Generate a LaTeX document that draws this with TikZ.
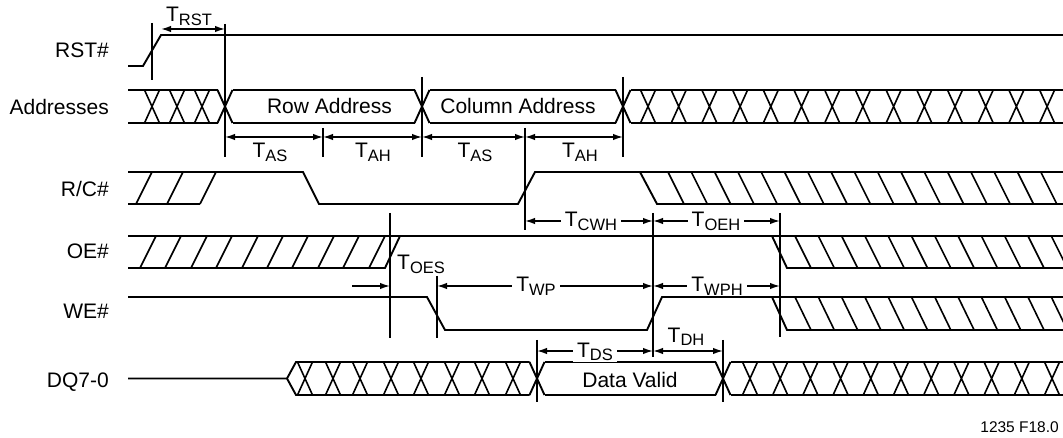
\documentclass[tikz,border=0pt]{standalone}
\usepackage{fontspec}
\setmainfont{Liberation Sans}
\usetikzlibrary{arrows.meta}

\def\hw{7.5}
\newcommand\tsub[1]{T\raisebox{-3.5pt}{\fontsize{16.5}{18}\selectfont #1}}

\begin{document}
\begin{tikzpicture}[x=1pt,y=-1pt]
		\tikzstyle{every node}=[font=\fontsize{21}{24}\selectfont]
		\tikzstyle{wave}=[line width=1.9pt, line join=miter]
		\tikzstyle{hatch}=[line width=1.6pt]
		\tikzstyle{marker}=[line width=1.9pt]
		\tikzstyle{dim}=[line width=1.5pt, {Latex[length=10pt,width=6.5pt]}-{Latex[length=10pt,width=6.5pt]}]
		\tikzstyle{tlabel}=[fill=white, inner xsep=4pt, inner ysep=1pt, anchor=base]
		\tikzstyle{signame}=[anchor=base east, inner sep=0pt]

		\clip (0,0) rectangle (1063,438);

			% Signal names
		\node[signame] (rst) at (109,58) {RST\#};
		\node[signame] (addr) at (109,115) {Addresses};
		\node[signame] (rc) at (109,197) {R/C\#};
		\node[signame] (oe) at (109,259) {OE\#};
		\node[signame] (we) at (109,319) {WE\#};
		\node[signame] (dq) at (109,387) {DQ7-0};

			% Time marks
		\coordinate (tR0) at (152,0);
		\coordinate (tR) at (161,0);
		\coordinate (tR1) at (225,0);
		\coordinate (tA1) at (323,0);
		\coordinate (tA2) at (422,0);
		\coordinate (tA3) at (525,0);
		\coordinate (tA4) at (623,0);
		\coordinate (tO1) at (390,0);
		\coordinate (tO2) at (437,0);
		\coordinate (tW1) at (653,0);
		\coordinate (tW2) at (780,0);
		\coordinate (tD1) at (537,0);
		\coordinate (tD2) at (723,0);
		\coordinate (tS) at (352,0);

		\foreach \m/\ya/\yb in {tR0/23/80, tR1/24/157, tA1/128/157, tA2/77/157,
			tA3/128/230, tA4/77/157, tO1/213/338, tO2/276/338,
			tW1/213/357, tW2/213/337, tD1/340/402, tD2/340/402}
		\draw[marker] (\m |- 0,\ya) -- (\m |- 0,\yb);

			% RST#
		\draw[wave] (128,66) -- (143,66) -- (161,35) -- (1063,35);

			% Addresses bus
		\draw[wave] (128,90) -- (225-\hw,90) (128,123) -- (225-\hw,123);
		\foreach \c in {152,177,202}
		\draw[hatch] (\c-\hw,90) -- (\c+\hw,123) (\c-\hw,123) -- (\c+\hw,90);
		\foreach \c in {225,422,623}
		\draw[wave] (\c-\hw,90) -- (\c+\hw,123) (\c-\hw,123) -- (\c+\hw,90);
		\foreach \a/\b in {232.5/414.5, 429.5/615.5, 630.5/1063}
		\draw[wave] (\a,90) -- (\b,90) (\a,123) -- (\b,123);
		\foreach \k in {0,...,13}
		\draw[hatch] ({648+30.7*\k-\hw},90) -- ({648+30.7*\k+\hw},123)
			({648+30.7*\k-\hw},123) -- ({648+30.7*\k+\hw},90);
		\node (row) at (329.5,114) [anchor=base] {Row Address};
		\node (col) at (518,114) [anchor=base] {Column Address};

			% R/C#
		\draw[wave] (128,172) -- (303,172) -- (319,204) -- (518,204) -- (535,172) -- (1063,172);
		\draw[wave] (128,204) -- (200,204);
		\foreach \b in {136,167,200}
		\draw[hatch] (\b,204) -- (\b+16,172);
		\draw[wave] (640,172) -- (657,204) -- (1063,204);
		\foreach \k in {0,...,16}
		\draw[hatch] ({668+23.3*\k},172) -- ({684+23.3*\k},204);

			% OE#
		\draw[wave] (128,236) -- (1063,236);
		\draw[wave] (128,268) -- (385,268) -- (400,236);
		\foreach \b in {140,165,191,216,242,267,292,318,343,369}
		\draw[hatch] (\b,268) -- (\b+16,236);
		\draw[wave] (772,236) -- (787,268) -- (1063,268);
		\foreach \k in {0,...,11}
		\draw[hatch] ({795+23.3*\k},236) -- ({811+23.3*\k},268);

			% WE#
		\draw[wave] (128,297) -- (427,297) -- (445,330) -- (647,330) -- (662,297) -- (1063,297);
		\draw[wave] (772,297) -- (787,330) -- (1063,330);
		\foreach \k in {0,...,11}
		\draw[hatch] ({795+23.3*\k},297) -- ({811+23.3*\k},330);

			% DQ7-0 bus
		\draw[wave] (128,378.5) -- (287,378.5) -- (296,362) -- (537-\hw,362)
			(287,378.5) -- (296,395) -- (537-\hw,395);
		\foreach \c in {305,333,360,391,421,452,482,513}
		\draw[hatch] (\c-\hw,362) -- (\c+\hw,395) (\c-\hw,395) -- (\c+\hw,362);
		\foreach \c in {537,723}
		\draw[wave] (\c-\hw,362) -- (\c+\hw,395) (\c-\hw,395) -- (\c+\hw,362);
		\foreach \a/\b in {544.5/715.5, 730.5/1063}
		\draw[wave] (\a,362) -- (\b,362) (\a,395) -- (\b,395);
		\foreach \k in {0,...,10}
		\draw[hatch] ({750+30.2*\k-\hw},362) -- ({750+30.2*\k+\hw},395)
			({750+30.2*\k-\hw},395) -- ({750+30.2*\k+\hw},362);
		\node (valid) at (630,387) [anchor=base] {Data Valid};

			% Timing arrows
		\draw[dim] (tR |- 0,29) -- (tR1 |- 0,29);
		\node[anchor=base] (trst) at (189,22) {\tsub{RST}};

		\draw[dim] (tR1 |- 0,137) -- (tA1 |- 0,137);
		\draw[dim] (tA1 |- 0,137) -- (tA2 |- 0,137);
		\draw[dim] (tA2 |- 0,137) -- (tA3 |- 0,137);
		\draw[dim] (tA3 |- 0,137) -- (tA4 |- 0,137);
		\node[anchor=base] (tas1) at (270,158) {\tsub{AS}};
		\node[anchor=base] (tah1) at (373,158) {\tsub{AH}};
		\node[anchor=base] (tas2) at (475,158) {\tsub{AS}};
		\node[anchor=base] (tah2) at (580,158) {\tsub{AH}};

		\draw[dim] (tA3 |- 0,221) -- (tW1 |- 0,221);
		\node[tlabel] (tcwh) at (591,227) {\tsub{CWH}};
		\draw[dim] (tW1 |- 0,221) -- (tW2 |- 0,221);
		\node[tlabel] (toeh) at (716,227) {\tsub{OEH}};

		\draw[line width=1.5pt, -{Latex[length=10pt,width=6.5pt]}] (tS |- 0,286) -- (tO1 |- 0,286);
		\node[anchor=base west, inner sep=0pt] (toes) at (397,270) {\tsub{OES}};
		\draw[dim] (tO2 |- 0,286) -- (tW1 |- 0,286);
		\node[tlabel] (twp) at (536,292) {\tsub{WP}};
		\draw[dim] (tW1 |- 0,286) -- (tW2 |- 0,286);
		\node[tlabel] (twph) at (717,292) {\tsub{WPH}};

		\draw[dim] (tD1 |- 0,351) -- (tW1 |- 0,351);
		\node[tlabel] (tds) at (595,357) {\tsub{DS}};
		\draw[dim] (tW1 |- 0,351) -- (tD2 |- 0,351);
		\node[anchor=base] (tdh) at (686,342) {\tsub{DH}};

			% Figure number
		\node[anchor=base east, inner sep=0pt, font=\fontsize{15.5}{17}\selectfont] (fig) at (1059,432) {1235 F18.0};
\end{tikzpicture}
\end{document}
